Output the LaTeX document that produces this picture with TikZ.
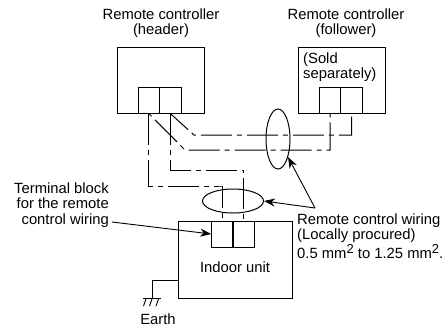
\documentclass[tikz,border=0pt]{standalone}
\usepackage{fontspec}
\setmainfont{Liberation Sans}
\usetikzlibrary{arrows.meta,shapes.geometric}
\tikzset{
  lbl/.style={inner sep=0pt,font=\fontsize{14.8bp}{17bp}\selectfont,text=black},
  unitbox/.style={draw,line width=1bp,minimum width=#1,inner sep=0pt},
  half/.style={draw,line width=1bp,minimum width=21.5bp,minimum height=26bp,inner sep=0pt},
  wire/.style={line width=1bp,dash pattern=on 31bp off 5bp on 5bp off 5bp},
  loopmark/.style={draw,ellipse,line width=1bp,inner sep=0pt},
  pointer/.style={line width=.9bp,-{Stealth[length=11bp,width=8bp,inset=3.5bp]}},
  plainline/.style={line width=1bp}
}
\begin{document}
\begin{tikzpicture}[x=1bp,y=-1bp]
\useasboundingbox (0,0) rectangle (447,330);
% units
\node[unitbox=87bp,minimum height=66bp] (hdr) at (160.5,80) {};
\node[unitbox=87bp,minimum height=65.5bp] (fol) at (341.5,80.5) {};
\node[unitbox=114bp,minimum height=77bp] (ind) at (235,259.5) {};
% terminals
\node[half] (hl) at (148.75,100) {};
\node[half] (hr) at (170.25,100) {};
\node[half] (fl) at (330,100) {};
\node[half] (fr) at (351.5,100) {};
\node[half] (il) at (222.5,234) {};
\node[half] (ir) at (243.5,234) {};
% bundle marks
\node[loopmark,minimum width=24bp,minimum height=60bp] (ea) at (278,139) {};
\node[loopmark,minimum width=61bp,minimum height=24bp] (eb) at (233,201) {};
% wires
\draw[wire,dash phase=7bp] (hr.south) -- (194,135) -- (351.5,135) -- (fr.south);
\draw[wire,dash phase=37bp] (hl.south) -- (185,150) -- (330,150) -- (fl.south);
\draw[wire] (hl.south) |- (223,186) -| (il.north);
\draw[wire] (hr.south) |- (243,170) -| (ir.north);
% labels
\node[lbl,anchor=base] (t1) at (161,19) {Remote controller};
\node[lbl,anchor=base] (t2) at (161,34) {(header)};
\node[lbl,anchor=base] (t3) at (346,19) {Remote controller};
\node[lbl,anchor=base] (t4) at (346,34) {(follower)};
\node[lbl,anchor=base west] (t5) at (303,63) {(Sold};
\node[lbl,anchor=base west] (t6) at (303,78) {separately)};
\node[lbl,anchor=base east] (t7) at (109,193) {Terminal block};
\node[lbl,anchor=base east] (t8) at (109,208) {for the remote};
\node[lbl,anchor=base east] (t9) at (109,224) {control wiring};
\node[lbl,anchor=base] (t10) at (235,272) {Indoor unit};
\node[lbl,anchor=base] (t11) at (158,324) {Earth};
\node[lbl,anchor=base west] (t12) at (297,224) {Remote control wiring};
\node[lbl,anchor=base west] (t13) at (297,239) {(Locally procured)};
\node[lbl,anchor=base west] (t14) at (297,258) {0.5 mm\raisebox{5bp}{\fontsize{13bp}{13bp}\selectfont 2} to 1.25 mm\raisebox{5bp}{\fontsize{13bp}{13bp}\selectfont 2}.};
% pointers
\coordinate (apex) at (315,208);
\coordinate (tail) at (112,222);
\draw[pointer] (tail) -- (il.west);
\draw[pointer] (apex) -- (ea.-61);
\draw[pointer] (apex) -- (eb.east);
% earth
\coordinate (gnd) at (152,298);
\draw[plainline] (ind.west |- 0,280) -| (gnd);
\draw[plainline] (143,298) -- (161,298);
\foreach \gx in {146,152,158.5}{\draw[line width=.9bp] (\gx,299) -- (\gx-2.5,306);}
\end{tikzpicture}
\end{document}
